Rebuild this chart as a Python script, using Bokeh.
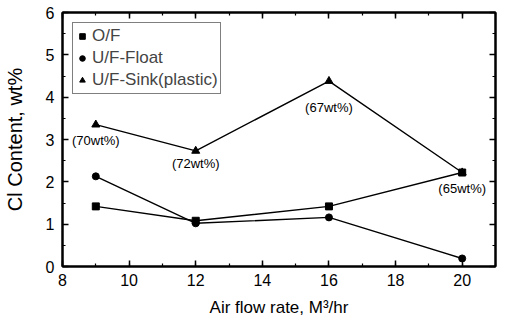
from bokeh.plotting import figure
from bokeh.models import LinearAxis, Range1d, Legend, LegendItem, SingleIntervalTicker, ColumnDataSource
from bokeh.core.properties import value
from bokeh.embed import file_html
from bokeh.resources import INLINE

air_flow = [9, 12, 16, 20]
of_vals = [1.42, 1.08, 1.42, 2.22]
float_vals = [2.13, 1.02, 1.16, 0.19]
sink_vals = [3.35, 2.73, 4.38, 2.22]
sink_labels = ["(70wt%)", "(72wt%)", "(67wt%)", "(65wt%)"]
label_x = [9, 12, 16, 20]
label_y = [2.98, 2.43, 3.75, 1.84]
x_ticks = [8, 10, 12, 14, 16, 18, 20]
y_ticks = [0, 1, 2, 3, 4, 5, 6]

FONT = "Liberation Sans"

p = figure(width=497, height=320, output_backend="svg", toolbar_location=None,
           x_range=Range1d(8, 21), y_range=Range1d(0, 6),
           min_border_left=62, min_border_right=2, min_border_top=12, min_border_bottom=54)
p.background_fill_color = "white"
p.border_fill_color = "white"
p.outline_line_color = "black"
p.outline_line_width = 2
p.grid.visible = False

def style_axis(ax):
    ax.axis_line_color = "black"
    ax.axis_line_width = 2
    ax.major_tick_in = 6
    ax.major_tick_out = 0
    ax.minor_tick_in = 3
    ax.minor_tick_out = 0
    ax.major_tick_line_width = 1.5
    ax.minor_tick_line_width = 1.2
    ax.major_label_text_font = FONT
    ax.major_label_text_font_size = "16px"
    ax.major_label_text_color = "black"
    ax.axis_label_text_font = FONT
    ax.axis_label_text_font_size = "17px"
    ax.axis_label_text_font_style = "normal"
    ax.axis_label_text_color = "black"

p.xaxis.ticker = SingleIntervalTicker(interval=2, num_minor_ticks=2)
p.yaxis.ticker = SingleIntervalTicker(interval=1, num_minor_ticks=2)
style_axis(p.xaxis[0])
style_axis(p.yaxis[0])
p.xaxis.axis_label = "Air flow rate, M³/hr"
p.yaxis.axis_label = "Cl Content, wt%"
p.yaxis.axis_label_text_font_size = "20px"
p.xaxis.major_label_standoff = 7
p.xaxis.axis_label_standoff = 9
p.yaxis.major_label_standoff = 8
p.yaxis.axis_label_standoff = 17

top = LinearAxis(ticker=SingleIntervalTicker(interval=2, num_minor_ticks=2))
right = LinearAxis(ticker=SingleIntervalTicker(interval=1, num_minor_ticks=2))
style_axis(top)
style_axis(right)
top.major_label_overrides = {t: "" for t in x_ticks + [22]}
right.major_label_overrides = {t: "" for t in y_ticks}
top.major_label_standoff = 0
right.major_label_standoff = 0
p.add_layout(top, "above")
p.add_layout(right, "right")

p.line(air_flow, of_vals, line_color="black", line_width=1.4)
p.line(air_flow, float_vals, line_color="black", line_width=1.4)
p.line(air_flow, sink_vals, line_color="black", line_width=1.4)

r_of = p.scatter(air_flow, of_vals, marker="square", size=7, color="black")
r_fl = p.scatter(air_flow, float_vals, marker="circle", size=7, color="black")
r_sk = p.scatter(air_flow, sink_vals, marker="triangle", size=8, color="black")

src = ColumnDataSource(dict(x=label_x, y=label_y, t=sink_labels))
p.text(x="x", y="y", text="t", source=src, text_font=value(FONT), text_font_size="13px",
       text_align="center", text_baseline="middle", text_color="black")

legend = Legend(items=[LegendItem(label="O/F", renderers=[r_of]),
                       LegendItem(label="U/F-Float", renderers=[r_fl]),
                       LegendItem(label="U/F-Sink(plastic)", renderers=[r_sk])],
                location="top_left")
legend.label_text_font = FONT
legend.label_text_font_size = "17px"
legend.border_line_color = "black"
legend.border_line_width = 1.5
legend.margin = 10
legend.padding = 2
legend.spacing = 0
legend.glyph_width = 14
legend.glyph_height = 22
legend.label_height = 22
legend.label_standoff = 3
p.add_layout(legend)

open("out.html", "w").write(file_html(p, INLINE))
